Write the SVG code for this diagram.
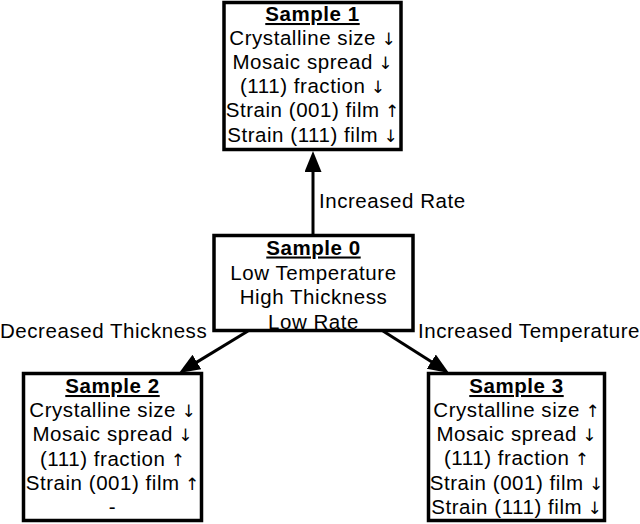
<svg xmlns="http://www.w3.org/2000/svg" width="640" height="524" viewBox="0 0 640 524">
<style>
  text { font-family: "Liberation Sans", Arial, sans-serif; font-size: 20.5px; fill: #000; letter-spacing: 0.55px; }
  .c { text-anchor: middle; }
  .t { font-weight: bold; text-decoration: underline; }
  .a { font-family: "DejaVu Sans", sans-serif; font-size: 17px; letter-spacing: 0; }
  .box { fill: #fff; stroke: #000; stroke-width: 3.5; }
  .conn { stroke: #000; stroke-width: 3; fill: none; marker-end: url(#ah); }
</style>
<defs>
  <marker id="ah" markerUnits="userSpaceOnUse" markerWidth="22" markerHeight="18" refX="3" refY="8.5" orient="auto">
    <path d="M0,0 L21,8.5 L0,17 z" fill="#000"/>
  </marker>
</defs>
<rect width="640" height="524" fill="#fff"/>
<g id="connectors">
  <line class="conn" x1="313" y1="234" x2="313" y2="169"/>
  <line class="conn" x1="248" y1="331" x2="194.4" y2="363.6"/>
  <line class="conn" x1="383" y1="331" x2="433.8" y2="363.3"/>
  <text x="319" y="208">Increased Rate</text>
  <text x="0" y="338">Decreased Thickness</text>
  <text x="418" y="338">Increased Temperature</text>
</g>
<g id="sample1">
  <rect class="box" x="224" y="2.5" width="177" height="147"/>
  <text class="c t" x="312.5" y="21">Sample 1</text>
  <text class="c" x="312.5" y="45">Crystalline size<tspan class="a"> ↓</tspan></text>
  <text class="c" x="312.5" y="69">Mosaic spread<tspan class="a"> ↓</tspan></text>
  <text class="c" x="312.5" y="93">(111) fraction<tspan class="a"> ↓</tspan></text>
  <text class="c" x="312.5" y="117">Strain (001) film<tspan class="a"> ↑</tspan></text>
  <text class="c" x="312.5" y="142">Strain (111) film<tspan class="a"> ↓</tspan></text>
</g>
<g id="sample0">
  <rect class="box" x="214" y="235.5" width="199" height="95"/>
  <text class="c t" x="313.5" y="254.5">Sample 0</text>
  <text class="c" x="313.5" y="279.5">Low Temperature</text>
  <text class="c" x="313.5" y="304">High Thickness</text>
  <text class="c" x="313.5" y="328.5">Low Rate</text>
</g>
<g id="sample2">
  <rect class="box" x="23.5" y="373.5" width="178" height="147"/>
  <text class="c t" x="112.5" y="393">Sample 2</text>
  <text class="c" x="112.5" y="417">Crystalline size<tspan class="a"> ↓</tspan></text>
  <text class="c" x="112.5" y="441">Mosaic spread<tspan class="a"> ↓</tspan></text>
  <text class="c" x="112.5" y="466">(111) fraction<tspan class="a"> ↑</tspan></text>
  <text class="c" x="112.5" y="490">Strain (001) film<tspan class="a"> ↑</tspan></text>
  <text class="c" x="112.5" y="514">-</text>
</g>
<g id="sample3">
  <rect class="box" x="428.5" y="373.5" width="176" height="147"/>
  <text class="c t" x="516.5" y="393">Sample 3</text>
  <text class="c" x="516.5" y="417">Crystalline size<tspan class="a"> ↑</tspan></text>
  <text class="c" x="516.5" y="440.5">Mosaic spread<tspan class="a"> ↓</tspan></text>
  <text class="c" x="516.5" y="465">(111) fraction<tspan class="a"> ↑</tspan></text>
  <text class="c" x="516.5" y="490">Strain (001) film<tspan class="a"> ↓</tspan></text>
  <text class="c" x="516.5" y="513.5">Strain (111) film<tspan class="a"> ↓</tspan></text>
</g>
</svg>
